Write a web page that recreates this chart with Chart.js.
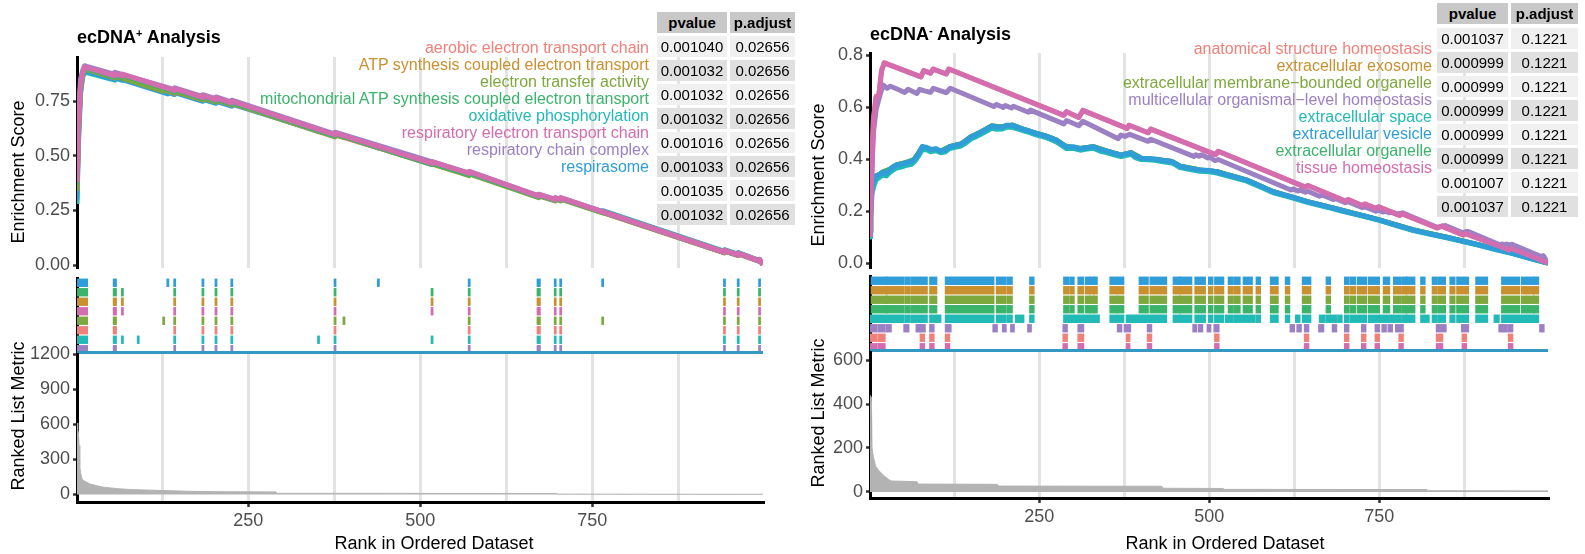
<!DOCTYPE html>
<html><head><meta charset="utf-8">
<script src="https://cdn.jsdelivr.net/npm/chart.js@4.4.1/dist/chart.umd.min.js"></script>
<style>
html,body{margin:0;padding:0;background:#fff;width:1585px;height:554px;overflow:hidden;font-family:"Liberation Sans",Arial,sans-serif;}
#root{position:relative;width:1585px;height:554px;}
canvas{position:absolute;}
.t{position:absolute;white-space:nowrap;}
.cell{position:absolute;text-align:center;font-size:15px;color:#000;}
sup{font-size:11px;vertical-align:6px;line-height:0;}
</style></head><body>
<div id="root"></div>
<script>
// ---------------- shared axis data ----------------
const RANK_MIN = 1, RANK_MAX = 998;
const gridRanks = [125, 250, 375, 500, 625, 750, 875];
const tickRanks = [250, 500, 750];

// ---------------- left panel (ecDNA+) ----------------
const leftNames = ['aerobic electron transport chain','ATP synthesis coupled electron transport','electron transfer activity','mitochondrial ATP synthesis coupled electron transport','oxidative phosphorylation','respiratory electron transport chain','respiratory chain complex','respirasome'];
const leftPvalue = ['0.001040','0.001032','0.001032','0.001032','0.001016','0.001033','0.001035','0.001032'];
const leftPadjust = ['0.02656','0.02656','0.02656','0.02656','0.02656','0.02656','0.02656','0.02656'];
const leftEsTicks = [0, 0.25, 0.5, 0.75];
const leftMetricTicks = [0, 300, 600, 900, 1200];

const esAerobic = [[1,0.35],[3,0.60],[6,0.81],[9,0.875],[12,0.900],[15,0.898],[56,0.859],[56,0.869],[143,0.788],[143,0.797],[184,0.757],[184,0.766],[203,0.748],[203,0.757],[226,0.734],[226,0.743],[376,0.588],[376,0.597],[571,0.412],[571,0.420],[672,0.311],[672,0.319],[696,0.296],[696,0.304],[704,0.296],[704,0.304],[942,0.056],[942,0.064],[962,0.043],[962,0.051],[993,0.017],[993,0.023],[998,0.002]];
const esATPsynth = [[1,0.36],[3,0.61],[6,0.81],[9,0.877],[12,0.902],[15,0.900],[56,0.862],[56,0.872],[67,0.861],[67,0.870],[143,0.794],[143,0.803],[184,0.762],[184,0.771],[203,0.752],[203,0.761],[226,0.737],[226,0.746],[376,0.591],[376,0.600],[517,0.460],[517,0.468],[571,0.414],[571,0.422],[672,0.312],[672,0.320],[696,0.297],[696,0.305],[704,0.297],[704,0.305],[942,0.057],[942,0.065],[962,0.044],[962,0.052],[993,0.018],[993,0.024],[998,0.002]];
const esTransfer = [[1,0.34],[3,0.60],[6,0.80],[9,0.872],[12,0.898],[15,0.896],[56,0.858],[56,0.868],[127,0.797],[127,0.804],[143,0.788],[143,0.797],[184,0.757],[184,0.766],[203,0.748],[203,0.757],[226,0.734],[226,0.743],[376,0.589],[376,0.598],[389,0.585],[389,0.592],[571,0.410],[571,0.418],[672,0.309],[672,0.317],[696,0.294],[696,0.302],[704,0.294],[704,0.302],[765,0.239],[765,0.246],[942,0.060],[942,0.068],[962,0.047],[962,0.055],[993,0.019],[993,0.025],[998,0.002]];
const esMitoATP = [[1,0.37],[3,0.61],[6,0.81],[9,0.878],[12,0.903],[15,0.901],[56,0.863],[56,0.873],[67,0.862],[67,0.871],[143,0.795],[143,0.804],[184,0.763],[184,0.772],[203,0.753],[203,0.762],[226,0.738],[226,0.747],[376,0.592],[376,0.601],[517,0.461],[517,0.469],[571,0.415],[571,0.423],[672,0.313],[672,0.321],[696,0.298],[696,0.306],[704,0.298],[704,0.306],[942,0.057],[942,0.065],[962,0.044],[962,0.052],[993,0.018],[993,0.024],[998,0.002]];
const esOxPhos = [[1,0.28],[3,0.55],[6,0.78],[9,0.86],[12,0.885],[15,0.883],[56,0.848],[56,0.857],[67,0.847],[67,0.855],[90,0.832],[90,0.839],[143,0.786],[143,0.795],[184,0.755],[184,0.764],[203,0.746],[203,0.755],[226,0.733],[226,0.742],[352,0.612],[352,0.619],[376,0.595],[376,0.604],[517,0.465],[517,0.473],[571,0.419],[571,0.427],[672,0.315],[672,0.323],[696,0.299],[696,0.307],[704,0.299],[704,0.307],[942,0.057],[942,0.065],[962,0.044],[962,0.052],[993,0.017],[993,0.023],[998,0.002]];
const esRespETC = [[1,0.38],[3,0.62],[6,0.82],[9,0.88],[12,0.908],[15,0.905],[56,0.868],[56,0.878],[67,0.867],[67,0.876],[143,0.800],[143,0.809],[184,0.768],[184,0.777],[203,0.758],[203,0.767],[226,0.743],[226,0.752],[376,0.597],[376,0.606],[517,0.466],[517,0.474],[571,0.420],[571,0.428],[672,0.316],[672,0.324],[696,0.300],[696,0.308],[704,0.300],[704,0.308],[942,0.058],[942,0.066],[962,0.045],[962,0.053],[993,0.018],[993,0.024],[998,0.002]];
const esRespComplex = [[1,0.42],[3,0.66],[6,0.85],[9,0.89],[12,0.914],[15,0.911],[56,0.874],[56,0.884],[143,0.804],[143,0.813],[184,0.772],[184,0.781],[203,0.762],[203,0.771],[226,0.747],[226,0.756],[376,0.600],[376,0.609],[571,0.421],[571,0.429],[672,0.317],[672,0.325],[696,0.301],[696,0.309],[704,0.301],[704,0.309],[942,0.059],[942,0.067],[962,0.046],[962,0.054],[993,0.019],[993,0.025],[998,0.002]];
const esRespirasome = [[1,0.30],[3,0.57],[6,0.79],[9,0.865],[12,0.89],[15,0.888],[56,0.852],[56,0.861],[133,0.785],[133,0.792],[143,0.782],[143,0.791],[184,0.751],[184,0.760],[203,0.742],[203,0.751],[226,0.729],[226,0.738],[376,0.591],[376,0.600],[439,0.537],[439,0.544],[571,0.416],[571,0.424],[672,0.313],[672,0.321],[696,0.297],[696,0.305],[704,0.297],[704,0.305],[765,0.242],[765,0.249],[942,0.062],[942,0.070],[962,0.049],[962,0.057],[993,0.020],[993,0.026],[998,0.002]];

const hitsAerobic = [[1,15],[55,57],[143,143],[184,184],[203,203],[226,226],[376,376],[571,571],[671,673],[696,696],[704,704],[942,942],[962,962],[993,993]];
const hitsATPsynth = [[1,15],[55,57],[67,67],[143,143],[184,184],[203,203],[226,226],[376,376],[517,517],[571,571],[671,673],[696,696],[704,704],[942,942],[962,962],[993,993]];
const hitsTransfer = [[1,15],[55,57],[127,127],[143,143],[184,184],[203,203],[226,226],[376,376],[389,389],[571,571],[671,673],[696,696],[704,704],[765,765],[942,942],[962,962],[993,993]];
const hitsMitoATP = [[1,15],[55,57],[67,67],[143,143],[184,184],[203,203],[226,226],[376,376],[517,517],[571,571],[671,673],[696,696],[704,704],[942,942],[962,962],[993,993]];
const hitsOxPhos = [[1,15],[55,57],[67,67],[90,90],[143,143],[184,184],[203,203],[226,226],[352,352],[376,376],[517,517],[571,571],[671,673],[696,696],[704,704],[942,942],[962,962],[993,993]];
const hitsRespETC = [[1,15],[55,57],[67,67],[143,143],[184,184],[203,203],[226,226],[376,376],[517,517],[571,571],[671,673],[696,696],[704,704],[942,942],[962,962],[993,993]];
const hitsRespComplex = [[1,15],[55,57],[143,143],[184,184],[203,203],[226,226],[376,376],[571,571],[671,673],[696,696],[704,704],[942,942],[962,962],[993,993]];
const hitsRespirasome = [[1,15],[55,57],[133,133],[143,143],[184,184],[203,203],[226,226],[376,376],[439,439],[571,571],[671,673],[696,696],[704,704],[765,765],[942,942],[962,962],[993,993]];

const leftMetric = [[1,613],[2,560],[3,527],[4,420],[5,250],[6,190],[8,140],[10,120],[15,105],[20,90],[30,75],[40,62],[60,50],[80,42],[120,35],[160,28],[200,24],[290,22],[292,10],[698,9],[700,3],[998,2]];

// ---------------- right panel (ecDNA-) ----------------
const rightNames = ['anatomical structure homeostasis','extracellular exosome','extracellular membrane\u2212bounded organelle','multicellular organismal\u2212level homeostasis','extracellular space','extracellular vesicle','extracellular organelle','tissue homeostasis'];
const rightPvalue = ['0.001037','0.000999','0.000999','0.000999','0.000999','0.000999','0.001007','0.001037'];
const rightPadjust = ['0.1221','0.1221','0.1221','0.1221','0.1221','0.1221','0.1221','0.1221'];
const rightEsTicks = [0, 0.2, 0.4, 0.6, 0.8];
const rightMetricTicks = [0, 200, 400, 600];

const esTissue = [[1,0.10],[3,0.30],[6,0.55],[10,0.64],[14,0.645],[18,0.74],[22,0.77],[76,0.716],[80,0.74],[90,0.73],[94,0.746],[113,0.727],[117,0.746],[286,0.568],[290,0.582],[308,0.56],[314,0.587],[379,0.518],[382,0.53],[410,0.501],[414,0.515],[509,0.417],[513,0.43],[641,0.292],[645,0.298],[700,0.238],[704,0.244],[725,0.221],[729,0.227],[745,0.21],[749,0.216],[780,0.183],[784,0.189],[835,0.135],[842,0.142],[873,0.108],[877,0.113],[941,0.05],[945,0.055],[998,0.0]];
const esAnatomical = [[1,0.10],[3,0.30],[6,0.55],[10,0.64],[14,0.645],[18,0.74],[22,0.77],[76,0.716],[80,0.74],[90,0.73],[94,0.746],[113,0.727],[117,0.746],[286,0.568],[290,0.582],[308,0.56],[314,0.587],[379,0.518],[382,0.53],[410,0.501],[414,0.515],[509,0.417],[513,0.43],[641,0.292],[645,0.298],[700,0.238],[704,0.244],[725,0.221],[729,0.227],[745,0.21],[749,0.216],[780,0.183],[784,0.189],[835,0.135],[842,0.142],[873,0.108],[877,0.113],[941,0.05],[945,0.055],[998,0.0]];
const esMulticell = [[1,0.10],[3,0.30],[6,0.50],[10,0.59],[14,0.63],[20,0.685],[26,0.672],[31,0.68],[40,0.67],[52,0.656],[57,0.668],[70,0.652],[74,0.668],[81,0.662],[90,0.656],[94,0.672],[113,0.655],[119,0.672],[183,0.602],[187,0.61],[197,0.598],[200,0.606],[209,0.596],[212,0.603],[234,0.58],[237,0.588],[286,0.535],[290,0.548],[308,0.528],[314,0.545],[366,0.478],[370,0.492],[376,0.487],[383,0.495],[410,0.468],[414,0.476],[477,0.41],[480,0.416],[485,0.411],[489,0.416],[498,0.404],[501,0.407],[508,0.394],[513,0.398],[620,0.281],[624,0.285],[630,0.277],[634,0.28],[641,0.272],[645,0.276],[662,0.257],[667,0.261],[682,0.244],[686,0.247],[700,0.232],[704,0.236],[725,0.213],[729,0.216],[745,0.199],[749,0.203],[755,0.196],[759,0.199],[764,0.193],[768,0.196],[775,0.188],[784,0.193],[835,0.137],[847,0.144],[872,0.117],[880,0.122],[927,0.07],[931,0.073],[934,0.07],[937,0.073],[941,0.069],[945,0.072],[987,0.026],[991,0.028],[998,0.0]];
const esVesicle = [[1,0.12],[2,0.2],[4,0.3],[7,0.32],[10,0.335],[15,0.34],[20,0.35],[25,0.345],[30,0.36],[35,0.37],[40,0.377],[48,0.38],[55,0.387],[62,0.39],[66,0.398],[72,0.42],[78,0.447],[84,0.445],[90,0.437],[98,0.44],[105,0.43],[112,0.435],[118,0.447],[126,0.452],[135,0.458],[142,0.47],[150,0.486],[158,0.495],[165,0.505],[172,0.515],[180,0.527],[188,0.522],[195,0.523],[202,0.53],[210,0.53],[218,0.522],[225,0.516],[235,0.508],[245,0.499],[252,0.494],[260,0.488],[268,0.48],[275,0.473],[283,0.458],[290,0.447],[300,0.447],[310,0.44],[320,0.444],[330,0.447],[340,0.436],[350,0.43],[360,0.422],[370,0.415],[378,0.42],[385,0.424],[392,0.41],[400,0.403],[410,0.402],[420,0.4],[430,0.395],[445,0.39],[452,0.38],[457,0.372],[470,0.365],[486,0.358],[500,0.356],[511,0.351],[525,0.34],[540,0.33],[555,0.319],[575,0.296],[594,0.274],[610,0.262],[627,0.25],[644,0.236],[660,0.226],[677,0.215],[693,0.204],[710,0.192],[730,0.18],[751,0.165],[775,0.146],[800,0.127],[825,0.112],[849,0.099],[873,0.084],[898,0.069],[922,0.053],[947,0.037],[972,0.018],[998,0.0]];
const esExosome = [[1,0.12],[2,0.2],[4,0.3],[7,0.32],[10,0.335],[15,0.34],[20,0.35],[30,0.36],[40,0.377],[55,0.387],[66,0.398],[72,0.42],[78,0.447],[90,0.437],[105,0.43],[118,0.447],[135,0.458],[150,0.486],[165,0.505],[180,0.527],[195,0.523],[210,0.53],[225,0.516],[245,0.499],[260,0.488],[275,0.473],[290,0.447],[310,0.44],[330,0.447],[350,0.43],[370,0.415],[385,0.424],[400,0.403],[430,0.395],[445,0.39],[457,0.372],[486,0.358],[511,0.351],[555,0.319],[594,0.274],[644,0.236],[693,0.204],[751,0.165],[800,0.127],[849,0.099],[898,0.069],[947,0.037],[998,0.0]];
const esMembrane = [[1,0.12],[2,0.2],[4,0.3],[7,0.32],[10,0.335],[15,0.34],[20,0.35],[30,0.36],[40,0.377],[55,0.387],[66,0.398],[72,0.42],[78,0.447],[90,0.437],[105,0.43],[118,0.447],[135,0.458],[150,0.486],[165,0.505],[180,0.527],[195,0.523],[210,0.53],[225,0.516],[245,0.499],[260,0.488],[275,0.473],[290,0.447],[310,0.44],[330,0.447],[350,0.43],[370,0.415],[385,0.424],[400,0.403],[430,0.395],[445,0.39],[457,0.372],[486,0.358],[511,0.351],[555,0.319],[594,0.274],[644,0.236],[693,0.204],[751,0.165],[800,0.127],[849,0.099],[898,0.069],[947,0.037],[998,0.0]];
const esOrganelle = [[1,0.12],[2,0.2],[4,0.3],[7,0.32],[10,0.335],[15,0.34],[20,0.35],[30,0.36],[40,0.377],[55,0.387],[66,0.398],[72,0.42],[78,0.447],[90,0.437],[105,0.43],[118,0.447],[135,0.458],[150,0.486],[165,0.505],[180,0.527],[195,0.523],[210,0.53],[225,0.516],[245,0.499],[260,0.488],[275,0.473],[290,0.447],[310,0.44],[330,0.447],[350,0.43],[370,0.415],[385,0.424],[400,0.403],[430,0.395],[445,0.39],[457,0.372],[486,0.358],[511,0.351],[555,0.319],[594,0.274],[644,0.236],[693,0.204],[751,0.165],[800,0.127],[849,0.099],[898,0.069],[947,0.037],[998,0.0]];
const esSpace = [[1,0.10],[2,0.17],[4,0.27],[7,0.30],[10,0.32],[15,0.33],[20,0.338],[25,0.335],[30,0.348],[35,0.358],[40,0.365],[48,0.37],[55,0.376],[62,0.38],[66,0.388],[72,0.41],[78,0.437],[84,0.436],[90,0.428],[98,0.433],[105,0.424],[112,0.428],[118,0.44],[126,0.445],[135,0.45],[142,0.462],[150,0.478],[158,0.487],[165,0.497],[172,0.507],[180,0.518],[188,0.514],[195,0.515],[202,0.522],[210,0.522],[218,0.516],[225,0.51],[235,0.502],[245,0.493],[252,0.488],[260,0.482],[268,0.474],[275,0.466],[283,0.452],[290,0.44],[300,0.441],[310,0.434],[320,0.438],[330,0.441],[340,0.43],[350,0.424],[360,0.416],[370,0.409],[378,0.414],[385,0.418],[392,0.404],[400,0.398],[410,0.397],[420,0.395],[430,0.39],[445,0.385],[452,0.375],[457,0.367],[470,0.36],[486,0.353],[500,0.351],[511,0.346],[525,0.336],[540,0.326],[555,0.315],[575,0.292],[594,0.27],[610,0.259],[627,0.247],[644,0.233],[660,0.223],[677,0.212],[693,0.201],[710,0.19],[730,0.178],[751,0.163],[775,0.144],[800,0.125],[825,0.11],[849,0.097],[873,0.082],[898,0.067],[922,0.051],[947,0.035],[972,0.017],[998,0.0]];

const hitsCoreRight = [[4,25],[26,50],[54,59],[63,84],[90,98],[113,182],[188,200],[204,209],[237,241],[287,292],[296,300],[308,314],[319,323],[325,329],[331,334],[355,363],[366,373],[398,409],[414,436],[448,456],[458,473],[480,493],[500,504],[509,520],[529,533],[537,544],[551,562],[570,574],[591,600],[613,617],[638,648],[673,677],[700,704],[708,714],[719,730],[735,749],[757,764],[772,780],[784,789],[791,801],[812,816],[829,834],[838,846],[855,860],[865,871],[875,880],[893,908],[931,955],[960,965],[968,976],[978,983]];
const hitsSpace = [[3,50],[54,59],[63,84],[90,104],[113,182],[188,200],[204,209],[216,226],[237,241],[287,337],[355,363],[366,373],[379,436],[448,456],[458,473],[480,493],[500,504],[509,520],[525,533],[537,566],[570,574],[591,600],[613,617],[628,632],[638,648],[663,669],[673,677],[680,686],[690,694],[700,704],[708,730],[735,749],[752,769],[772,780],[784,789],[791,801],[812,822],[829,834],[838,846],[855,860],[865,871],[875,880],[893,908],[920,925],[931,983]];
const hitsMulticell = [[3,10],[14,22],[26,31],[52,57],[70,74],[76,81],[90,94],[113,119],[183,187],[197,200],[209,212],[234,237],[286,290],[308,314],[366,370],[376,383],[410,414],[477,480],[485,489],[498,501],[508,513],[620,624],[630,634],[641,645],[662,667],[682,686],[700,704],[725,729],[745,749],[755,759],[764,768],[775,784],[835,847],[872,880],[927,931],[934,937],[941,945],[987,991]];
const hitsAnatomical = [[3,10],[14,22],[76,80],[90,94],[113,117],[286,290],[308,314],[379,382],[410,414],[509,513],[641,645],[700,704],[725,729],[745,749],[780,784],[835,842],[873,877],[941,945]];
const hitsTissue = [[3,10],[14,22],[76,80],[90,94],[113,117],[286,290],[308,314],[379,382],[410,414],[509,513],[641,645],[700,704],[725,729],[745,749],[780,784],[835,842],[873,877],[941,945]];

const rightMetric = [[1,440],[3,430],[4,200],[6,160],[9,120],[13,100],[18,85],[23,70],[28,58],[32,50],[70,47],[72,36],[188,35],[190,27],[430,26],[432,17],[520,16],[522,12],[820,11],[822,6],[998,5]];

// ---------------- styling ----------------
const RED='#F0817A', ORANGE='#C8902E', OLIVE='#7DA83D', GREEN='#3BB46B', TEAL='#22BAB6', BLUE='#2F9ED8', PURPLE='#9C80C4', PINK='#D46CB0';
const leftColors = [RED, ORANGE, OLIVE, GREEN, TEAL, PINK, PURPLE, BLUE];
const rightColors = [RED, ORANGE, OLIVE, PURPLE, TEAL, BLUE, GREEN, PINK];
const FONT = '"Liberation Sans", Arial, sans-serif';
Chart.defaults.font.family = FONT;
Chart.defaults.color = '#4d4d4d';
const P = 18, WY = 62, XH = 34, HIT_PAD = 2.0;
const root = document.getElementById('root');

function makeCanvas(area, xh) {
  const c = document.createElement('canvas');
  const left = area.l - WY - P, top = area.t - P;
  const w = Math.round((area.r - area.l) + WY + 2 * P), h = Math.round((area.b - area.t) + xh + 2 * P);
  c.width = w; c.height = h;
  c.style.left = left + 'px'; c.style.top = top + 'px';
  c.style.width = w + 'px'; c.style.height = h + 'px';
  root.appendChild(c);
  return c;
}
function toXY(arr) { return arr.map(p => ({x: p[0], y: p[1]})); }
function baseOptions() {
  return { responsive: false, animation: false, devicePixelRatio: 1, events: [],
    layout: { padding: P }, plugins: { legend: { display: false }, tooltip: { enabled: false } } };
}
function xScale(show) {
  return {
    type: 'linear', min: RANK_MIN, max: RANK_MAX, display: true,
    afterBuildTicks: s => { s.ticks = gridRanks.map(v => ({value: v})); },
    afterFit: s => { s.height = show ? XH : 0; },
    grid: { display: true, color: '#e3e3e3', lineWidth: 3, drawTicks: show, tickLength: 5, tickWidth: 2.5,
      tickColor: ctx => (ctx.tick && tickRanks.includes(ctx.tick.value)) ? '#333' : 'rgba(0,0,0,0)' },
    border: show ? { display: true, color: '#000', width: 3 } : { display: false },
    ticks: { display: show, padding: 3, font: { size: 18 }, color: '#4d4d4d', maxRotation: 0, autoSkip: false,
      callback: v => tickRanks.includes(v) ? String(v) : '' }
  };
}
function yScale(min, max, ticks, fmt) {
  return {
    type: 'linear', min, max, position: 'left', z: 1,
    afterBuildTicks: s => { s.ticks = ticks.map(v => ({value: v})); },
    afterFit: s => { s.width = WY; },
    grid: { display: true, drawOnChartArea: false, drawTicks: true, tickLength: 4, tickColor: '#333', tickWidth: 2.5 },
    border: { display: true, color: '#000', width: 3 },
    ticks: { padding: 3, font: { size: 18 }, color: '#4d4d4d', callback: v => fmt(v) }
  };
}
const baselinePlugin = {
  id: 'baseline',
  afterDatasetsDraw(chart, args, opts) {
    const {ctx, chartArea, scales} = chart;
    const y = chartArea.bottom - 1.5;
    ctx.save(); ctx.strokeStyle = opts.color || '#3399c2'; ctx.lineWidth = 3;
    ctx.beginPath();
    ctx.moveTo(scales.x.getPixelForValue(RANK_MIN), y);
    ctx.lineTo(scales.x.getPixelForValue(RANK_MAX), y);
    ctx.stroke(); ctx.restore();
  }
};

function buildPanel(c) {
  new Chart(makeCanvas(c.esArea, 0), {
    type: 'line',
    data: { datasets: c.esOrder.map((si, k) => ({
      data: toXY(c.es[si]), borderColor: c.colors[si], borderWidth: 5, pointRadius: 0, tension: 0,
      fill: false, borderJoinStyle: 'round', borderCapStyle: 'butt', order: c.esOrder.length - k })) },
    options: Object.assign(baseOptions(), { scales: { x: xScale(false), y: yScale(c.esMin, c.esMax, c.esTicks, c.esFmt) } })
  });
  const rugOpts = baseOptions();
  rugOpts.indexAxis = 'y';
  rugOpts.plugins.baseline = { color: '#3399c2' };
  rugOpts.scales = {
    x: { type: 'linear', min: RANK_MIN, max: RANK_MAX, display: false },
    y: { type: 'category', position: 'left', z: 1, offset: true, afterFit: s => { s.width = WY; },
         grid: { display: false }, border: { display: true, color: '#000', width: 3 }, ticks: { display: false } }
  };
  new Chart(makeCanvas(c.rugArea, 0), {
    type: 'bar',
    data: { labels: c.rugOrder.map(i => c.names[i]),
      datasets: c.rugOrder.map(si => ({
        data: c.hits[si].map(([a, b]) => ({ x: [a - HIT_PAD, b + HIT_PAD], y: c.names[si] })),
        backgroundColor: c.colors[si], borderWidth: 0, grouped: false, barPercentage: 0.88, categoryPercentage: 1 })) },
    options: rugOpts,
    plugins: [baselinePlugin]
  });
  new Chart(makeCanvas(c.metArea, XH), {
    type: 'line',
    data: { datasets: [{ data: toXY(c.metric), borderColor: '#b3b3b3', backgroundColor: '#b3b3b3', borderWidth: 1,
      pointRadius: 0, tension: 0, fill: 'origin' }] },
    options: Object.assign(baseOptions(), { scales: { x: xScale(true), y: yScale(c.metMin, c.metMax, c.metTicks, v => String(v)) } })
  });
}

buildPanel({
  names: leftNames, colors: leftColors,
  es: [esAerobic, esATPsynth, esTransfer, esMitoATP, esOxPhos, esRespETC, esRespComplex, esRespirasome],
  hits: [hitsAerobic, hitsATPsynth, hitsTransfer, hitsMitoATP, hitsOxPhos, hitsRespETC, hitsRespComplex, hitsRespirasome],
  esOrder: [4, 7, 0, 1, 2, 3, 6, 5],
  rugOrder: [7, 3, 1, 5, 2, 0, 4, 6],
  metric: leftMetric,
  esArea: { l: 77, r: 763, t: 57, b: 268 }, esMin: -0.01376, esMax: 0.9541, esTicks: leftEsTicks, esFmt: v => v.toFixed(2),
  rugArea: { l: 77, r: 763, t: 278, b: 354 },
  metArea: { l: 77, r: 763, t: 354, b: 502 }, metMin: -64.3, metMax: 1204.3, metTicks: leftMetricTicks
});
buildPanel({
  names: rightNames, colors: rightColors,
  es: [esAnatomical, esExosome, esMembrane, esMulticell, esSpace, esVesicle, esOrganelle, esTissue],
  hits: [hitsAnatomical, hitsCoreRight, hitsCoreRight, hitsMulticell, hitsSpace, hitsCoreRight, hitsCoreRight, hitsTissue],
  esOrder: [0, 1, 2, 6, 4, 5, 3, 7],
  rugOrder: [5, 1, 2, 6, 4, 3, 0, 7],
  metric: rightMetric,
  esArea: { l: 870, r: 1548, t: 53, b: 268 }, esMin: -0.01923, esMax: 0.8077, esTicks: rightEsTicks, esFmt: v => v.toFixed(1),
  rugArea: { l: 870, r: 1548, t: 276, b: 352 },
  metArea: { l: 870, r: 1548, t: 352, b: 498 }, metMin: -27.3, metMax: 636.4, metTicks: rightMetricTicks
});

// ---------------- text overlays ----------------
function addDiv(html, css) {
  const d = document.createElement('div'); d.className = 't'; d.innerHTML = html;
  Object.assign(d.style, css); root.appendChild(d); return d;
}
addDiv('ecDNA<sup>+</sup> Analysis', { left: '77px', top: '26px', fontSize: '18px', fontWeight: 'bold', lineHeight: '22px', color: '#000' });
addDiv('ecDNA<sup>-</sup> Analysis', { left: '870px', top: '23px', fontSize: '18px', fontWeight: 'bold', lineHeight: '22px', color: '#000' });

function rotTitle(txt, cx, cy) {
  addDiv(txt, { left: cx + 'px', top: cy + 'px', fontSize: '18px', lineHeight: '20px', color: '#000',
    transform: 'translate(-50%,-50%) rotate(-90deg)' });
}
rotTitle('Enrichment Score', 18, 172);
rotTitle('Ranked List Metric', 18, 416);
rotTitle('Enrichment Score', 818, 175);
rotTitle('Ranked List Metric', 818, 413);
addDiv('Rank in Ordered Dataset', { left: '434px', top: '543px', fontSize: '18px', lineHeight: '20px', color: '#000', transform: 'translate(-50%,-50%)' });
addDiv('Rank in Ordered Dataset', { left: '1225px', top: '543px', fontSize: '18px', lineHeight: '20px', color: '#000', transform: 'translate(-50%,-50%)' });

function legend(names, colors, rightX, y0) {
  names.forEach((n, i) => addDiv(n, { right: (1585 - rightX) + 'px', top: (y0 + 17 * i - 9) + 'px', fontSize: '16px', lineHeight: '18px', color: colors[i] }));
}
legend(leftNames, leftColors, 649, 47.5);
legend(rightNames, rightColors, 1432, 49);

function table(x1, w1, x2, w2, hTop, hH, rTop, pitch, rH, pv, pa) {
  const cell = (txt, x, y, w, h, bg, bold) => {
    const d = document.createElement('div'); d.className = 'cell'; d.textContent = txt;
    Object.assign(d.style, { left: x + 'px', top: y + 'px', width: w + 'px', height: h + 'px', lineHeight: h + 'px', background: bg, fontWeight: bold ? 'bold' : 'normal' });
    root.appendChild(d);
  };
  cell('pvalue', x1, hTop, w1, hH, '#c8c8c8', true);
  cell('p.adjust', x2, hTop, w2, hH, '#c8c8c8', true);
  pv.forEach((v, i) => {
    const bg = i % 2 === 0 ? '#f0f0f0' : '#e0e0e0';
    cell(v, x1, rTop + pitch * i, w1, rH, bg, false);
    cell(pa[i], x2, rTop + pitch * i, w2, rH, bg, false);
  });
}
table(657, 70, 730, 65, 12, 21, 36, 24, 21, leftPvalue, leftPadjust);
table(1437, 71, 1511, 67, 3, 21, 28, 24, 21, rightPvalue, rightPadjust);
</script>
</body></html>
